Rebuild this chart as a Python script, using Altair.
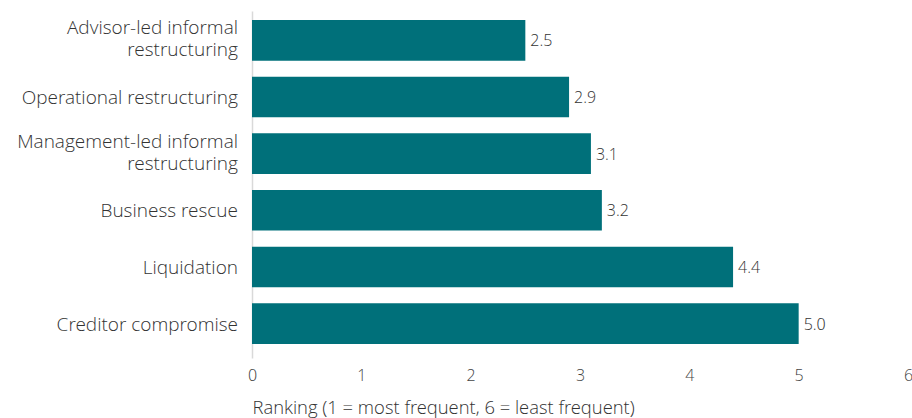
import altair as alt
import pandas as pd

categories = [
    "Advisor-led informal\nrestructuring",
    "Operational restructuring",
    "Management-led informal\nrestructuring",
    "Business rescue",
    "Liquidation",
    "Creditor compromise",
]
values = [2.5, 2.9, 3.1, 3.2, 4.4, 5.0]
x_ticks = [0, 1, 2, 3, 4, 5, 6]

df = pd.DataFrame({"category": categories, "value": values})

FONT = "'Open Sans Light', 'Open Sans'"
BAR = "#00707a"
TXT = "#333333"

y_scale = alt.Scale(domain=categories, paddingInner=0.283, paddingOuter=0.204, align=0.39)

y_enc = alt.Y(
    "category:N",
    sort=categories,
    title=None,
    scale=y_scale,
    axis=alt.Axis(
        domain=True,
        domainColor="#d9d9d9",
        domainWidth=1.5,
        ticks=False,
        labels=False,
    ),
)

x_enc = alt.X(
    "value:Q",
    scale=alt.Scale(domain=[0, 6], nice=False),
    title="Ranking (1 = most frequent, 6 = least frequent)",
    axis=alt.Axis(
        values=x_ticks,
        format="d",
        domain=False,
        ticks=False,
        grid=False,
        labelFlush=False,
        labelPadding=9,
        labelFont=FONT,
        labelFontSize=16,
        labelFontWeight=300,
        labelColor="#444444",
        titleFont=FONT,
        titleFontSize=18.4,
        titleFontWeight=300,
        titleColor=TXT,
        titleAnchor="start",
        titlePadding=15,
    ),
)

bars = alt.Chart(df).mark_bar(color=BAR).encode(x=x_enc, y=y_enc)

labels = alt.Chart(df).mark_text(
    align="left", baseline="middle", dx=5, dy=1,
    font=FONT, fontSize=16, fontWeight=300, color=TXT,
).encode(
    x="value:Q",
    y=alt.Y("category:N", sort=categories, scale=y_scale),
    text=alt.Text("value:Q", format=".1f"),
)

cat_style = dict(align="right", baseline="middle", font=FONT, fontSize=19,
                 fontWeight=300, color=TXT)

base_cat = alt.Chart(df).transform_calculate(
    line0="split(datum.category, '\\n')[0]",
    line1="length(split(datum.category, '\\n')) > 1 ? split(datum.category, '\\n')[1] : ''",
    multi="length(split(datum.category, '\\n')) > 1",
)

cat_single = base_cat.transform_filter("!datum.multi").mark_text(dy=1, **cat_style).encode(
    x=alt.value(-14),
    y=alt.Y("category:N", sort=categories, scale=y_scale),
    text="line0:N",
)

cat_top = base_cat.transform_filter("datum.multi").mark_text(dy=-12, **cat_style).encode(
    x=alt.value(-14),
    y=alt.Y("category:N", sort=categories, scale=y_scale),
    text="line0:N",
)

cat_bottom = base_cat.transform_filter("datum.multi").mark_text(dy=10, **cat_style).encode(
    x=alt.value(-14),
    y=alt.Y("category:N", sort=categories, scale=y_scale),
    text="line1:N",
)

chart = (
    alt.layer(bars, labels, cat_single, cat_top, cat_bottom)
    .properties(
        width=656,
        height=347,
        autosize=alt.AutoSizeParams(type="none"),
        padding={"left": 252, "top": 11, "right": 4, "bottom": 60},
        background="white",
    )
    .configure_view(stroke="transparent", strokeWidth=0)
)

chart.save("out.html", embed_options={"renderer": "svg", "actions": False})
